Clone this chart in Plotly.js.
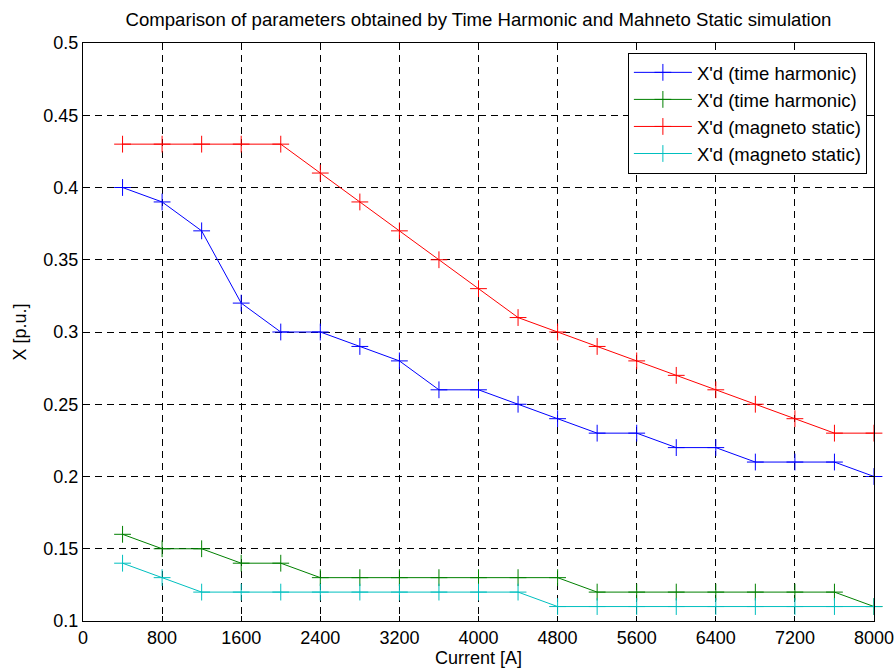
<!DOCTYPE html>
<html>
<head>
<meta charset="utf-8">
<script src="https://cdn.plot.ly/plotly-3.0.1.min.js"></script>
<style>html,body{margin:0;padding:0;background:#fff;}#chart{width:896px;height:670px;}</style>
</head>
<body>
<div id="chart"></div>
<script>
const current = [400, 800, 1200, 1600, 2000, 2400, 2800, 3200, 3600, 4000, 4400, 4800, 5200, 5600, 6000, 6400, 6800, 7200, 7600, 8000];
const xdTimeHarmonic = [0.40, 0.39, 0.37, 0.32, 0.30, 0.30, 0.29, 0.28, 0.26, 0.26, 0.25, 0.24, 0.23, 0.23, 0.22, 0.22, 0.21, 0.21, 0.21, 0.20];
const xddTimeHarmonic = [0.16, 0.15, 0.15, 0.14, 0.14, 0.13, 0.13, 0.13, 0.13, 0.13, 0.13, 0.13, 0.12, 0.12, 0.12, 0.12, 0.12, 0.12, 0.12, 0.11];
const xdMagnetoStatic = [0.43, 0.43, 0.43, 0.43, 0.43, 0.41, 0.39, 0.37, 0.35, 0.33, 0.31, 0.30, 0.29, 0.28, 0.27, 0.26, 0.25, 0.24, 0.23, 0.23];
const xddMagnetoStatic = [0.14, 0.13, 0.12, 0.12, 0.12, 0.12, 0.12, 0.12, 0.12, 0.12, 0.12, 0.11, 0.11, 0.11, 0.11, 0.11, 0.11, 0.11, 0.11, 0.11];
const legendNames = ["X'd (time harmonic)", "X'd (time harmonic)", "X'd (magneto static)", "X'd (magneto static)"];
const xTicks = [0, 800, 1600, 2400, 3200, 4000, 4800, 5600, 6400, 7200, 8000];
const yTicks = [0.1, 0.15, 0.2, 0.25, 0.3, 0.35, 0.4, 0.45, 0.5];

const colors = ['#0000ff', '#008000', '#ff0000', '#00bfbf'];
const ys = [xdTimeHarmonic, xddTimeHarmonic, xdMagnetoStatic, xddMagnetoStatic];

const traces = ys.map((y, i) => ({
  x: current, y: y, type: 'scatter', mode: 'lines+markers',
  name: legendNames[i],
  line: {color: colors[i], width: 1},
  marker: {symbol: 'cross-thin-open', size: 12, color: colors[i], line: {color: colors[i], width: 1}},
  cliponaxis: false
}));

const FONT = 'Liberation Sans, Arial, sans-serif';
const axisCommon = {
  showline: true, linecolor: '#000', linewidth: 1, mirror: 'ticks',
  ticks: 'inside', ticklen: 5, tickcolor: '#000',
  showgrid: true, gridcolor: '#000', griddash: '7px,5px', gridwidth: 1,
  zeroline: false,
  tickfont: {family: FONT, size: 18, color: '#000'}
};

const layout = {
  width: 896, height: 670,
  margin: {l: 83, r: 22, t: 43, b: 49},
  paper_bgcolor: '#fff', plot_bgcolor: '#fff',
  font: {family: FONT, color: '#000'},
  title: {text: 'Comparison of parameters obtained by Time Harmonic and Mahneto Static simulation',
    font: {size: 18.6, color: '#000'}, x: 0.534, xanchor: 'center', y: 0.971, yanchor: 'middle'},
  xaxis: Object.assign({}, axisCommon, {
    range: [0, 8000], tickvals: xTicks, ticktext: xTicks.map(String),
    title: {text: 'Current [A]', font: {size: 18}, standoff: 1}
  }),
  yaxis: Object.assign({}, axisCommon, {
    range: [0.1, 0.5], tickvals: yTicks, ticktext: yTicks.map(v => String(v)),
    title: {text: 'X [p.u.]', font: {size: 18}, standoff: 12}
  }),
  legend: {
    x: 0.991, xanchor: 'right', y: 0.983, yanchor: 'top',
    bgcolor: '#fff', bordercolor: '#000', borderwidth: 1,
    font: {size: 18.5, color: '#000'}, tracegroupgap: 0, itemwidth: 58
  },
  showlegend: true
};

Plotly.newPlot('chart', traces, layout, {displayModeBar: false, staticPlot: true});
</script>
</body>
</html>
